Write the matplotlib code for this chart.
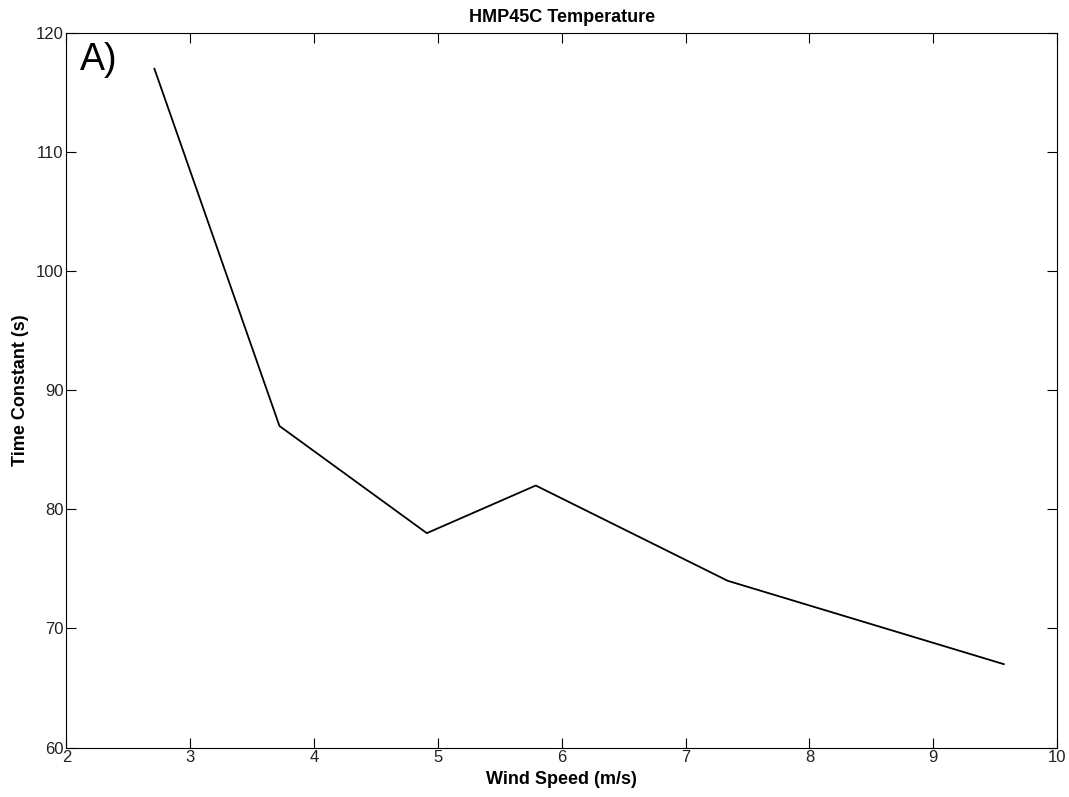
import matplotlib
matplotlib.use("Agg")
import matplotlib.pyplot as plt

plt.rcParams['font.family'] = ['Liberation Sans', 'DejaVu Sans']

# wind speed (m/s) vs time constant (s)
wind_speed = [2.71, 3.72, 4.91, 5.79, 7.34, 9.57]
time_constant = [117.0, 87.0, 78.0, 82.0, 74.0, 67.0]

fig = plt.figure(figsize=(10.69, 7.97), dpi=100)
ax = fig.add_axes([0.0622, 0.0621, 0.9266, 0.8965])

ax.plot(wind_speed, time_constant, color="black", linewidth=1.3)

ax.set_xlim(2, 10)
ax.set_ylim(60, 120)
ax.set_xticks(range(2, 11))
ax.set_yticks(range(60, 121, 10))
ax.tick_params(direction="in", length=7, width=0.8, top=True, right=True,
               labelsize=12, pad=2, labelcolor="#222222")
for s in ax.spines.values():
    s.set_linewidth(0.8)

ax.set_title("HMP45C Temperature", fontsize=13, fontweight="bold", pad=8)
ax.set_xlabel("Wind Speed (m/s)", fontsize=13, fontweight="bold", labelpad=4)
ax.set_ylabel("Time Constant (s)", fontsize=13, fontweight="bold", labelpad=5)
ax.text(0.0135, 0.987, "A)", transform=ax.transAxes, fontsize=27,
        ha="left", va="top")

fig.savefig("out.png", dpi=100)
